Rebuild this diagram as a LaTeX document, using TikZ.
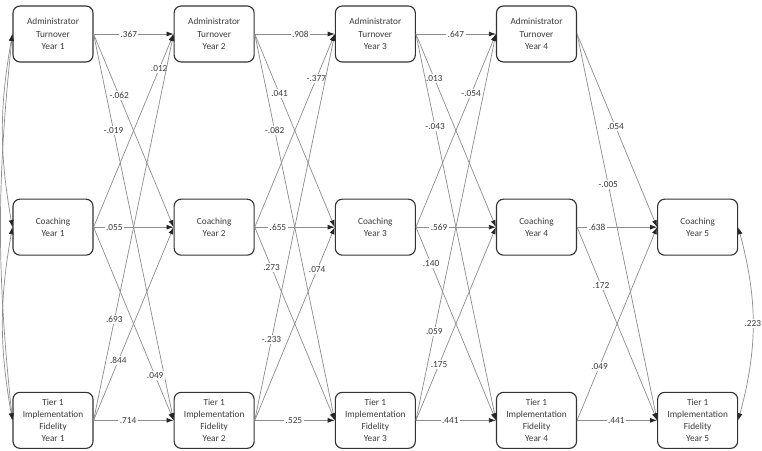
\documentclass[tikz,border=0pt]{standalone}
\usepackage{fontspec}
\setmainfont{Carlito}
\usetikzlibrary{arrows.meta, positioning}
\definecolor{edg}{HTML}{8C8C8C}
\definecolor{txt}{HTML}{3A3A3A}
\tikzset{
  var/.style  = {rectangle, rounded corners=5pt, draw=black!80, line width=0.8pt,
                 minimum width=2cm, minimum height=1.4cm, inner sep=1pt,
                 font=\fontsize{6.6}{8.7}\selectfont, align=center, text=txt},
  arr/.style  = {-{Latex[length=5pt, width=3.5pt, color=black!85]},
                 line width=0.5pt, color=edg},
  cov/.style  = {{Latex[length=5pt, width=3.5pt, color=black!85]}-{Latex[length=5pt, width=3.5pt, color=black!85]},
                 line width=0.5pt, color=edg},
  coef/.style = {fill=white, inner sep=1pt, font=\fontsize{6.6}{8}\selectfont, text=txt},
}
\begin{document}
\begin{tikzpicture}[x=0.025cm, y=-0.025cm, node distance=3.4cm and 2cm]
  \useasboundingbox (0,0) rectangle (762,451);

  % year 1
  \node[var] (adm1) at (53,34) {Administrator\\Turnover\\Year 1};
  \node[var, below=of adm1] (coa1) {Coaching\\Year 1};
  \node[var, below=of coa1] (fid1) {Tier 1\\Implementation\\Fidelity\\Year 1};

  % year 2
  \node[var, right=of adm1] (adm2) {Administrator\\Turnover\\Year 2};
  \node[var, right=of coa1] (coa2) {Coaching\\Year 2};
  \node[var, right=of fid1] (fid2) {Tier 1\\Implementation\\Fidelity\\Year 2};

  % year 3
  \node[var, right=of adm2] (adm3) {Administrator\\Turnover\\Year 3};
  \node[var, right=of coa2] (coa3) {Coaching\\Year 3};
  \node[var, right=of fid2] (fid3) {Tier 1\\Implementation\\Fidelity\\Year 3};

  % year 4
  \node[var, right=of adm3] (adm4) {Administrator\\Turnover\\Year 4};
  \node[var, right=of coa3] (coa4) {Coaching\\Year 4};
  \node[var, right=of fid3] (fid4) {Tier 1\\Implementation\\Fidelity\\Year 4};

  % year 5
  \node[var, right=of coa4] (coa5) {Coaching\\Year 5};
  \node[var, right=of fid4] (fid5) {Tier 1\\Implementation\\Fidelity\\Year 5};

  % year 1 -> year 2
  \draw[arr] (adm1.east) -- node[coef, pos=.44] {.367}  (adm2.west);
  \draw[arr] (adm1.east) -- node[coef, pos=.32] {-.062} (coa2.west);
  \draw[arr] (adm1.east) -- node[coef, pos=.25] {-.019} (fid2.west);
  \draw[arr] (coa1.east) -- node[coef, pos=.82] {.012}  (adm2.west);
  \draw[arr] (coa1.east) -- node[coef, pos=.26] {.055}  (coa2.west);
  \draw[arr] (coa1.east) -- node[coef, pos=.77] {.049}  (fid2.west);
  \draw[arr] (fid1.east) -- node[coef, pos=.26] {.693}  (adm2.west);
  \draw[arr] (fid1.east) -- node[coef, pos=.31] {.844}  (coa2.west);
  \draw[arr] (fid1.east) -- node[coef, pos=.43] {.714}  (fid2.west);

  % year 2 -> year 3
  \draw[arr] (adm2.east) -- node[coef, pos=.57] {.908}  (adm3.west);
  \draw[arr] (adm2.east) -- node[coef, pos=.31] {.041}  (coa3.west);
  \draw[arr] (adm2.east) -- node[coef, pos=.25] {-.082} (fid3.west);
  \draw[arr] (coa2.east) -- node[coef, pos=.77] {-.377} (adm3.west);
  \draw[arr] (coa2.east) -- node[coef, pos=.29] {.655}  (coa3.west);
  \draw[arr] (coa2.east) -- node[coef, pos=.21] {.273}  (fid3.west);
  \draw[arr] (fid2.east) -- node[coef, pos=.21] {-.233} (adm3.west);
  \draw[arr] (fid2.east) -- node[coef, pos=.78] {.074}  (coa3.west);
  \draw[arr] (fid2.east) -- node[coef, pos=.49] {.525}  (fid3.west);

  % year 3 -> year 4
  \draw[arr] (adm3.east) -- node[coef, pos=.50] {.647}  (adm4.west);
  \draw[arr] (adm3.east) -- node[coef, pos=.23] {.013}  (coa4.west);
  \draw[arr] (adm3.east) -- node[coef, pos=.24] {-.043} (fid4.west);
  \draw[arr] (coa3.east) -- node[coef, pos=.69] {-.054} (adm4.west);
  \draw[arr] (coa3.east) -- node[coef, pos=.29] {.569}  (coa4.west);
  \draw[arr] (coa3.east) -- node[coef, pos=.19] {.140}  (fid4.west);
  \draw[arr] (fid3.east) -- node[coef, pos=.23] {.059}  (adm4.west);
  \draw[arr] (fid3.east) -- node[coef, pos=.29] {.175}  (coa4.west);
  \draw[arr] (fid3.east) -- node[coef, pos=.43] {.441}  (fid4.west);

  % year 4 -> year 5
  \draw[arr] (adm4.east) -- node[coef, pos=.48] {.054}  (coa5.west);
  \draw[arr] (adm4.east) -- node[coef, pos=.39] {-.005} (fid5.west);
  \draw[arr] (coa4.east) -- node[coef, pos=.25] {.638}  (coa5.west);
  \draw[arr] (coa4.east) -- node[coef, pos=.30] {.172}  (fid5.west);
  \draw[arr] (fid4.east) -- node[coef, pos=.28] {.049}  (coa5.west);
  \draw[arr] (fid4.east) -- node[coef, pos=.49] {.441}  (fid5.west);

  % covariances
  \draw[cov] (adm1.west) to[bend right=10] (coa1.west);
  \draw[cov] (coa1.west) to[bend right=10] (fid1.west);
  \draw[cov] (adm1.west) to[bend right=6]  (fid1.west);
  \draw[cov] (coa5.east) to[bend left=15] node[coef] {.223} (fid5.east);

\end{tikzpicture}
\end{document}
